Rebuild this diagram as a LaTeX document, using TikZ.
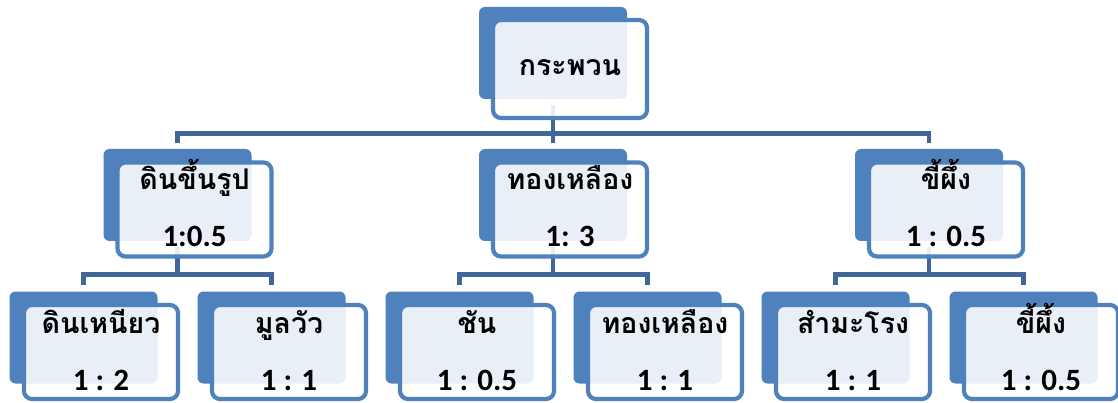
\documentclass[tikz,border=0pt]{standalone}
\usepackage{fontspec}
\newfontfamily\thaifont[Script=Thai]{Loma}
\newfontfamily\numfont{Carlito}
\usetikzlibrary{calc}
\definecolor{accent}{RGB}{79,129,189}
\definecolor{connc}{RGB}{64,102,154}
\tikzset{
  backbox/.style={fill=accent, rounded corners=6pt, minimum width=148pt, minimum height=92pt, inner sep=0pt},
  frontbox/.style={fill=white, fill opacity=0.88, draw=accent, draw opacity=1, line width=4.2pt, rounded corners=8pt, minimum width=154pt, minimum height=94pt, inner sep=0pt},
  thaitxt/.style={anchor=base, inner sep=0pt, font=\thaifont\bfseries\fontsize{28.5}{30}\selectfont, text=black},
  numtxt/.style={anchor=base, inner sep=0pt, font=\numfont\bfseries\fontsize{31}{33}\selectfont, text=black},
  conn/.style={draw=connc, line width=4.8pt}
}
\begin{document}
\begin{tikzpicture}[x=1pt,y=-1pt]
\useasboundingbox (0,0) rectangle (1118,403);
% back boxes
\node[backbox, minimum height=92pt] (b0) at (553,53) {};
\node[backbox] (b1) at (177.5,195) {};
\node[backbox] (b2) at (553,195) {};
\node[backbox] (b3) at (929,195) {};
\node[backbox] (l1) at (83.5,337.5) {};
\node[backbox] (l2) at (271.5,337.5) {};
\node[backbox] (l3) at (459.5,337.5) {};
\node[backbox] (l4) at (647.5,337.5) {};
\node[backbox] (l5) at (835.5,337.5) {};
\node[backbox] (l6) at (1023.5,337.5) {};
% connectors
\foreach \c in {b1,b2,b3}{
  \draw[conn] ([yshift=-6pt]b0.south) -- ++(0,28) -| ([yshift=6pt]\c.north);
}
\foreach \p/\c in {b1/l1,b1/l2,b2/l3,b2/l4,b3/l5,b3/l6}{
  \draw[conn] ([yshift=-6pt]\p.south) -- ++(0,27) -| ([yshift=6pt]\c.north);
}
% front boxes
\node[frontbox, minimum height=98pt] (f0) at (570,69) {};
\node[frontbox] (f1) at (194.5,209.5) {};
\node[frontbox] (f2) at (570,209.5) {};
\node[frontbox] (f3) at (946,209.5) {};
\node[frontbox] (g1) at (101,352) {};
\node[frontbox] (g2) at (289,352) {};
\node[frontbox] (g3) at (477,352) {};
\node[frontbox] (g4) at (665,352) {};
\node[frontbox] (g5) at (853,352) {};
\node[frontbox] (g6) at (1041,352) {};
% texts
\node[thaitxt] (t0) at ($(f0.center)+(0,7)$) {กระพวน};
\node[thaitxt] (t1) at ($(f1.center)+(0,-19.5)$) {ดินขึ้นรูป};
\node[numtxt] (n1) at ($(f1.center)+(0,37.5)$) {1:0.5};
\node[thaitxt] (t2) at ($(f2.center)+(0,-19.5)$) {ทองเหลือง};
\node[numtxt] (n2) at ($(f2.center)+(0,37.5)$) {1: 3};
\node[thaitxt] (t3) at ($(f3.center)+(0,-19.5)$) {ขี้ผึ้ง};
\node[numtxt] (n3) at ($(f3.center)+(0,37.5)$) {1 : 0.5};
\node[thaitxt] (s1) at ($(g1.center)+(0,-19)$) {ดินเหนียว};
\node[numtxt] (m1) at ($(g1.center)+(0,38)$) {1 : 2};
\node[thaitxt] (s2) at ($(g2.center)+(0,-19)$) {มูลวัว};
\node[numtxt] (m2) at ($(g2.center)+(0,38)$) {1 : 1};
\node[thaitxt] (s3) at ($(g3.center)+(0,-19)$) {ชัน};
\node[numtxt] (m3) at ($(g3.center)+(0,38)$) {1 : 0.5};
\node[thaitxt] (s4) at ($(g4.center)+(0,-19)$) {ทองเหลือง};
\node[numtxt] (m4) at ($(g4.center)+(0,38)$) {1 : 1};
\node[thaitxt] (s5) at ($(g5.center)+(0,-19)$) {สำมะโรง};
\node[numtxt] (m5) at ($(g5.center)+(0,38)$) {1 : 1};
\node[thaitxt] (s6) at ($(g6.center)+(0,-19)$) {ขี้ผึ้ง};
\node[numtxt] (m6) at ($(g6.center)+(0,38)$) {1 : 0.5};
\end{tikzpicture}
\end{document}
